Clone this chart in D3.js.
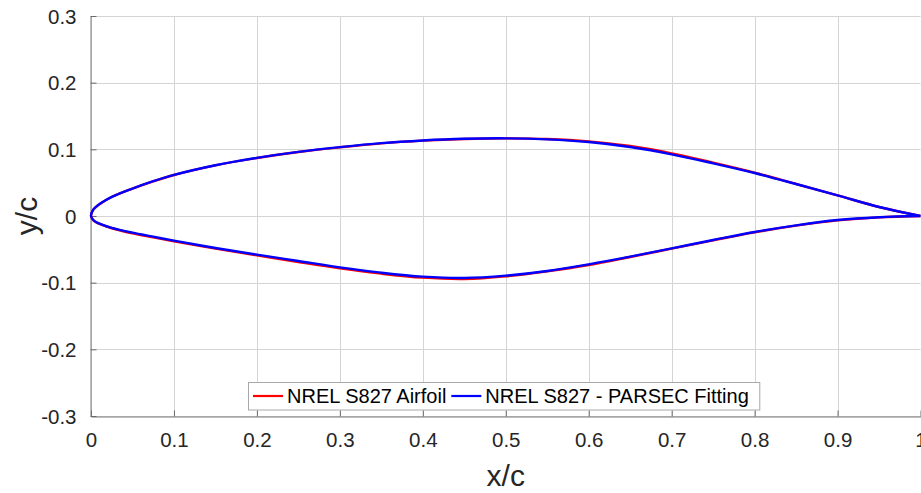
<!DOCTYPE html>
<html>
<head>
<meta charset="utf-8">
<script src="https://cdn.jsdelivr.net/npm/d3@7/dist/d3.min.js"></script>
<style>
  html, body { margin: 0; padding: 0; background: #fff; }
  svg { display: block; font-family: "Liberation Sans", Arial, Helvetica, sans-serif; }
</style>
</head>
<body>
<svg id="chart" width="921" height="493"></svg>
<script>
// ---- data ----
const xUpper = [1, 0.95, 0.9, 0.85, 0.8, 0.75, 0.7, 0.65, 0.6, 0.55, 0.5, 0.45, 0.4, 0.35, 0.3, 0.25, 0.2, 0.15, 0.1, 0.075, 0.05, 0.025, 0.0125, 0.005, 0.0025, 0];
const airfoilUpper = [0, 0.0135, 0.031, 0.048, 0.065, 0.080, 0.094, 0.105, 0.112, 0.1155, 0.1165, 0.1155, 0.113, 0.109, 0.103, 0.096, 0.087, 0.076, 0.0615, 0.052, 0.041, 0.0285, 0.0195, 0.0125, 0.009, 0];
const parsecUpper  = [0, 0.0135, 0.031, 0.048, 0.0645, 0.079, 0.0925, 0.1035, 0.111, 0.115, 0.1165, 0.1158, 0.1133, 0.1093, 0.1033, 0.0962, 0.0872, 0.0762, 0.0617, 0.0522, 0.0412, 0.0287, 0.0197, 0.0127, 0.0092, 0];
const xLower = [0.0025, 0.005, 0.0125, 0.025, 0.05, 0.075, 0.1, 0.15, 0.2, 0.25, 0.3, 0.35, 0.4, 0.45, 0.5, 0.55, 0.6, 0.65, 0.7, 0.75, 0.8, 0.85, 0.9, 0.95, 1];
const airfoilLower = [-0.006, -0.0085, -0.013, -0.0184, -0.026, -0.032, -0.038, -0.049, -0.059, -0.069, -0.0785, -0.0865, -0.0925, -0.0945, -0.0905, -0.083, -0.0735, -0.0615, -0.049, -0.0365, -0.0245, -0.0145, -0.0065, -0.002, 0];
const parsecLower  = [-0.0056, -0.0081, -0.0125, -0.0178, -0.025, -0.031, -0.037, -0.048, -0.058, -0.0675, -0.077, -0.085, -0.091, -0.093, -0.0895, -0.0825, -0.0725, -0.061, -0.0485, -0.036, -0.024, -0.014, -0.006, -0.0018, 0];
const xTicks = [0, 0.1, 0.2, 0.3, 0.4, 0.5, 0.6, 0.7, 0.8, 0.9, 1];
const yTicks = [-0.3, -0.2, -0.1, 0, 0.1, 0.2, 0.3];
const seriesNames = ["NREL S827 Airfoil", "NREL S827 - PARSEC Fitting"];
const seriesColors = ["#ff0000", "#0000ff"];

// ---- layout ----
const svg = d3.select("#chart");
const mLeft = 91, mRight = 920.5, mTop = 16, mBottom = 416;
const x = d3.scaleLinear().domain([0, 1]).range([mLeft, mRight]);
const y = d3.scaleLinear().domain([-0.3, 0.3]).range([mBottom, mTop]);

// grid
const grid = svg.append("g");
grid.selectAll("line.gx").data(xTicks).join("line")
  .attr("x1", d => Math.round(x(d)) + 0.5).attr("x2", d => Math.round(x(d)) + 0.5)
  .attr("y1", mTop).attr("y2", mBottom)
  .attr("stroke", "#d4d4d4").attr("stroke-width", 1);
grid.selectAll("line.gy").data(yTicks).join("line")
  .attr("y1", d => Math.round(y(d)) + 0.5).attr("y2", d => Math.round(y(d)) + 0.5)
  .attr("x1", mLeft).attr("x2", mRight)
  .attr("stroke", "#d4d4d4").attr("stroke-width", 1);

// axes
const fmt = d => String(+(+d).toFixed(1));
const xAxis = d3.axisBottom(x).tickValues(xTicks).tickSizeInner(-6).tickSizeOuter(0).tickPadding(16).tickFormat(fmt);
const yAxis = d3.axisLeft(y).tickValues(yTicks).tickSizeInner(-6).tickSizeOuter(0).tickPadding(14).tickFormat(fmt);
const gx = svg.append("g").attr("transform", `translate(0,${mBottom + 0.5})`).call(xAxis);
const gy = svg.append("g").attr("transform", `translate(${mLeft - 0.5},0)`).call(yAxis);
[gx, gy].forEach(g => {
  g.select(".domain").attr("stroke", "#7a7a7a").attr("stroke-width", 1);
  g.selectAll(".tick line").attr("stroke", "#6a6a6a");
  g.selectAll(".tick text").attr("fill", "#262626").style("font-size", "20.5px")
    .style("font-family", "'Liberation Sans', Arial, sans-serif");
});
gx.selectAll(".tick text").attr("dy", "0.71em");
gy.selectAll(".tick text").attr("dy", "0.35em");

// axis labels
svg.append("text").attr("x", (mLeft + mRight) / 2).attr("y", 486)
  .attr("text-anchor", "middle").attr("fill", "#262626")
  .style("font-size", "30px").text("x/c");
svg.append("text").attr("transform", `translate(37,${(mTop + mBottom) / 2}) rotate(-90)`)
  .attr("text-anchor", "middle").attr("fill", "#262626")
  .style("font-size", "30px").text("y/c");

// curves
const line = d3.line().x(d => x(d[0])).y(d => y(d[1])).curve(d3.curveCatmullRom.alpha(0.5));
const mk = (up, lo) => xUpper.map((xv, i) => [xv, up[i]]).concat(xLower.map((xv, i) => [xv, lo[i]]));
const series = [mk(airfoilUpper, airfoilLower), mk(parsecUpper, parsecLower)];
series.forEach((pts, i) => {
  svg.append("path").attr("d", line(pts)).attr("fill", "none")
    .attr("stroke", seriesColors[i]).attr("stroke-width", 2.4)
    .attr("stroke-linejoin", "round");
});

// legend
const leg = svg.append("g");
const legRect = leg.append("rect").attr("fill", "#fff").attr("stroke", "#a8a8a8").attr("stroke-width", 1);
let cx = 253;
const ly = 396;
seriesNames.forEach((name, i) => {
  leg.append("line").attr("x1", cx).attr("x2", cx + 30).attr("y1", ly).attr("y2", ly)
    .attr("stroke", seriesColors[i]).attr("stroke-width", 2.2);
  const t = leg.append("text").attr("x", cx + 34).attr("y", ly).attr("dy", "0.35em")
    .attr("fill", "#000").style("font-size", "20px").text(name);
  cx = cx + 34 + t.node().getComputedTextLength() + 5;
});
legRect.attr("x", 248.5).attr("y", 382.5).attr("width", cx + 6 - 248.5).attr("height", 27.5);
</script>
</body>
</html>
